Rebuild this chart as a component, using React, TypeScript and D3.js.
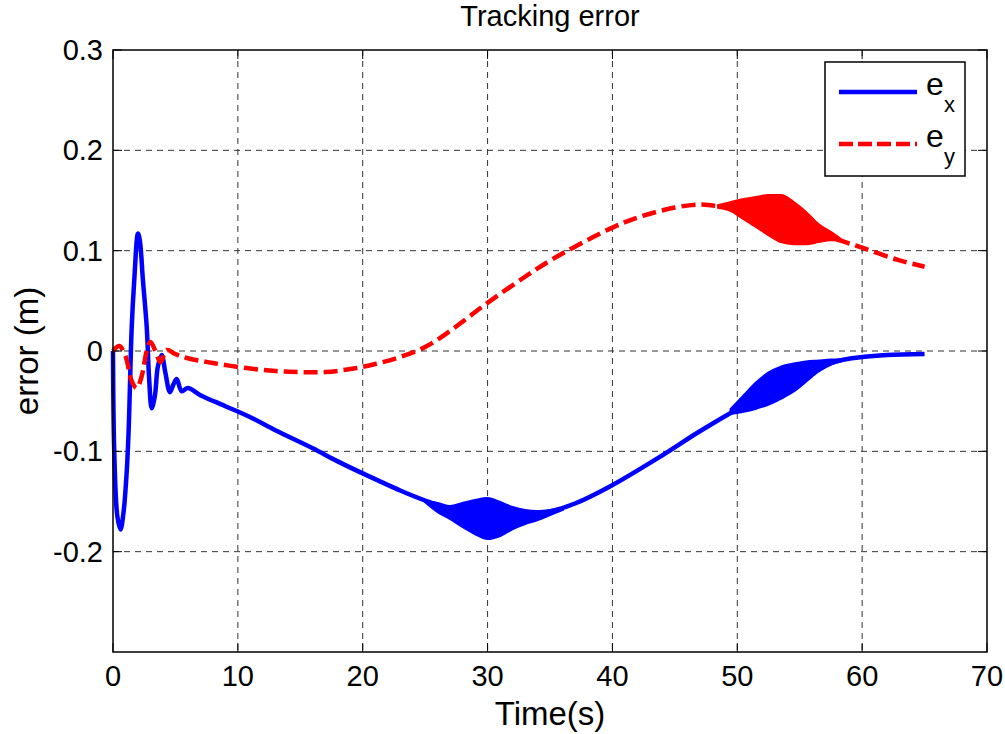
import * as d3 from 'd3'

// values
const xTicks = [0, 10, 20, 30, 40, 50, 60, 70]
const yTicks = [-0.2, -0.1, 0, 0.1, 0.2, 0.3]
const yTickLabels = ['-0.2', '-0.1', '0', '0.1', '0.2', '0.3']

const exTime = [0, 0.1, 0.35, 0.6, 0.85, 1.1, 1.25, 1.5, 1.7, 2.0, 2.15, 2.4, 2.7, 2.9, 3.1, 3.35, 3.6, 3.9, 4.2, 4.56, 4.85, 5.1, 5.5, 6.0, 7, 9, 11, 13, 16, 18, 20, 23, 25, 27, 30, 32, 35, 37, 39.8, 43.6, 47, 50, 52, 54, 56, 58, 60, 62, 65]
const exValue = [0, -0.1, -0.165, -0.178, -0.16, -0.12, -0.08, 0.024, 0.07, 0.117, 0.11, 0.07, 0.024, -0.029, -0.057, -0.045, -0.015, -0.004, -0.022, -0.041, -0.033, -0.028, -0.04, -0.037, -0.044, -0.055, -0.066, -0.079, -0.097, -0.11, -0.122, -0.139, -0.149, -0.157, -0.165, -0.166, -0.16, -0.152, -0.135, -0.107, -0.08, -0.058, -0.045, -0.03, -0.02, -0.01, -0.006, -0.004, -0.003]

// envelopes of the fast oscillation
const exBand1Time = [25, 26, 27, 28, 29, 30, 31, 32, 33, 34, 35, 36]
const exBand1Upper = [-0.15, -0.152, -0.155, -0.152, -0.149, -0.147, -0.151, -0.156, -0.159, -0.16, -0.159, -0.157]
const exBand1Lower = [-0.15, -0.16, -0.167, -0.175, -0.182, -0.187, -0.184, -0.177, -0.172, -0.168, -0.163, -0.158]
const exBand2Time = [49.5, 50.5, 51.5, 52.5, 53.5, 54.5, 55.5, 56.5, 57.5, 58.3]
const exBand2Upper = [-0.058, -0.045, -0.032, -0.022, -0.016, -0.013, -0.011, -0.01, -0.009, -0.009]
const exBand2Lower = [-0.062, -0.06, -0.057, -0.053, -0.047, -0.04, -0.03, -0.02, -0.013, -0.01]

const eyTime = [0, 0.5, 1.0, 1.5, 1.9, 2.3, 2.7, 3.0, 3.4, 3.8, 4.3, 5, 5.9, 8, 10.7, 13, 15, 17, 19, 21, 23, 25, 27, 30, 33, 35, 37, 40, 42, 45, 47, 48, 49, 50, 52, 54, 56, 58, 60, 62.8, 65]
const eyValue = [0, 0.005, -0.005, -0.03, -0.037, -0.025, 0, 0.009, 0, -0.011, 0.001, -0.003, -0.007, -0.012, -0.017, -0.02, -0.021, -0.021, -0.018, -0.013, -0.006, 0.004, 0.02, 0.048, 0.074, 0.09, 0.104, 0.123, 0.133, 0.143, 0.146, 0.145, 0.144, 0.142, 0.135, 0.127, 0.118, 0.111, 0.103, 0.091, 0.084]
const eyBandTime = [48.5, 49.5, 50.5, 51.5, 52.5, 53.5, 54.5, 55.5, 56.5, 57.5, 58.3]
const eyBandUpper = [0.145, 0.148, 0.151, 0.153, 0.155, 0.155, 0.148, 0.138, 0.126, 0.118, 0.111]
const eyBandLower = [0.143, 0.14, 0.132, 0.124, 0.116, 0.109, 0.107, 0.107, 0.109, 0.111, 0.111]

const font = 'Liberation Sans, Arial, Helvetica, sans-serif'
const blue = '#0000ff'
const red = '#ff0000'

const App = () => {
  const width = 1005
  const height = 734
  const left = 113, right = 987, top = 50, bottom = 652

  const x = d3.scaleLinear().domain([0, 70]).range([left, right])
  const y = d3.scaleLinear().domain([-0.3, 0.3]).range([bottom, top])

  const line = d3.line<[number, number]>()
    .x(d => x(d[0]))
    .y(d => y(d[1]))
    .curve(d3.curveCatmullRom.alpha(0.5))

  const band = (t: number[], up: number[], lo: number[]) =>
    d3.area<number>()
      .x((_, i) => x(t[i]))
      .y0((_, i) => y(lo[i]))
      .y1((_, i) => y(up[i]))
      .curve(d3.curveMonotoneX)(t)

  const exPts = exTime.map((t, i) => [t, exValue[i]] as [number, number])
  const eyPts = eyTime.map((t, i) => [t, eyValue[i]] as [number, number])

  const tickLen = 9

  return (
    <svg width={width} height={height} style={{ position: 'absolute', left: 0, top: 0, background: '#fff' }}>
      <rect x={0} y={0} width={width} height={height} fill="#fff" />
      {/* grid */}
      <g stroke="#333" strokeWidth={1} strokeDasharray="6,5">
        {xTicks.slice(1, -1).map(t => (
          <line key={'gx' + t} x1={x(t)} x2={x(t)} y1={top} y2={bottom} />
        ))}
        {yTicks.slice(0, -1).map(t => (
          <line key={'gy' + t} x1={left} x2={right} y1={y(t)} y2={y(t)} />
        ))}
      </g>

      {/* series */}
      <path d={band(exBand1Time, exBand1Upper, exBand1Lower) ?? ''} fill={blue} stroke={blue} strokeWidth={3} />
      <path d={band(exBand2Time, exBand2Upper, exBand2Lower) ?? ''} fill={blue} stroke={blue} strokeWidth={3} />
      <path d={line(exPts) ?? ''} fill="none" stroke={blue} strokeWidth={4.5} strokeLinejoin="round" />
      <path d={band(eyBandTime, eyBandUpper, eyBandLower) ?? ''} fill={red} stroke={red} strokeWidth={3} />
      <path d={line(eyPts) ?? ''} fill="none" stroke={red} strokeWidth={4.5} strokeDasharray="14,6" />

      {/* box and ticks */}
      <rect x={left} y={top} width={right - left} height={bottom - top} fill="none" stroke="#000" strokeWidth={1.5} />
      <g stroke="#000" strokeWidth={1}>
        {xTicks.map(t => (
          <g key={'tx' + t}>
            <line x1={x(t)} x2={x(t)} y1={bottom} y2={bottom - tickLen} />
            <line x1={x(t)} x2={x(t)} y1={top} y2={top + tickLen} />
          </g>
        ))}
        {yTicks.map(t => (
          <g key={'ty' + t}>
            <line x1={left} x2={left + tickLen} y1={y(t)} y2={y(t)} />
            <line x1={right} x2={right - tickLen} y1={y(t)} y2={y(t)} />
          </g>
        ))}
      </g>

      {/* tick labels */}
      <g fontFamily={font} fontSize={29} fill="#000">
        {xTicks.map(t => (
          <text key={'lx' + t} x={x(t)} y={bottom + 34} textAnchor="middle">{t}</text>
        ))}
        {yTicks.map((t, i) => (
          <text key={'ly' + t} x={left - 10} y={y(t) + 10} textAnchor="end">{yTickLabels[i]}</text>
        ))}
      </g>

      {/* titles */}
      <text x={(left + right) / 2} y={26} textAnchor="middle" fontFamily={font} fontSize={29}>Tracking error</text>
      <text x={(left + right) / 2} y={725} textAnchor="middle" fontFamily={font} fontSize={33}>Time(s)</text>
      <text transform={`translate(38, ${(top + bottom) / 2}) rotate(-90)`} textAnchor="middle" fontFamily={font} fontSize={33}>error (m)</text>

      {/* legend */}
      <g>
        <rect x={825} y={62} width={140} height={114} fill="#fff" stroke="#000" strokeWidth={1.5} />
        <line x1={839} x2={917} y1={92} y2={92} stroke={blue} strokeWidth={4.5} />
        <line x1={839} x2={917} y1={144} y2={144} stroke={red} strokeWidth={4.5} strokeDasharray="14,5" />
        <text x={926} y={95} fontFamily={font} fontSize={32}>e</text>
        <text x={944} y={112} fontFamily={font} fontSize={22}>x</text>
        <text x={926} y={147} fontFamily={font} fontSize={32}>e</text>
        <text x={944} y={164} fontFamily={font} fontSize={22}>y</text>
      </g>
    </svg>
  )
}

export default App
